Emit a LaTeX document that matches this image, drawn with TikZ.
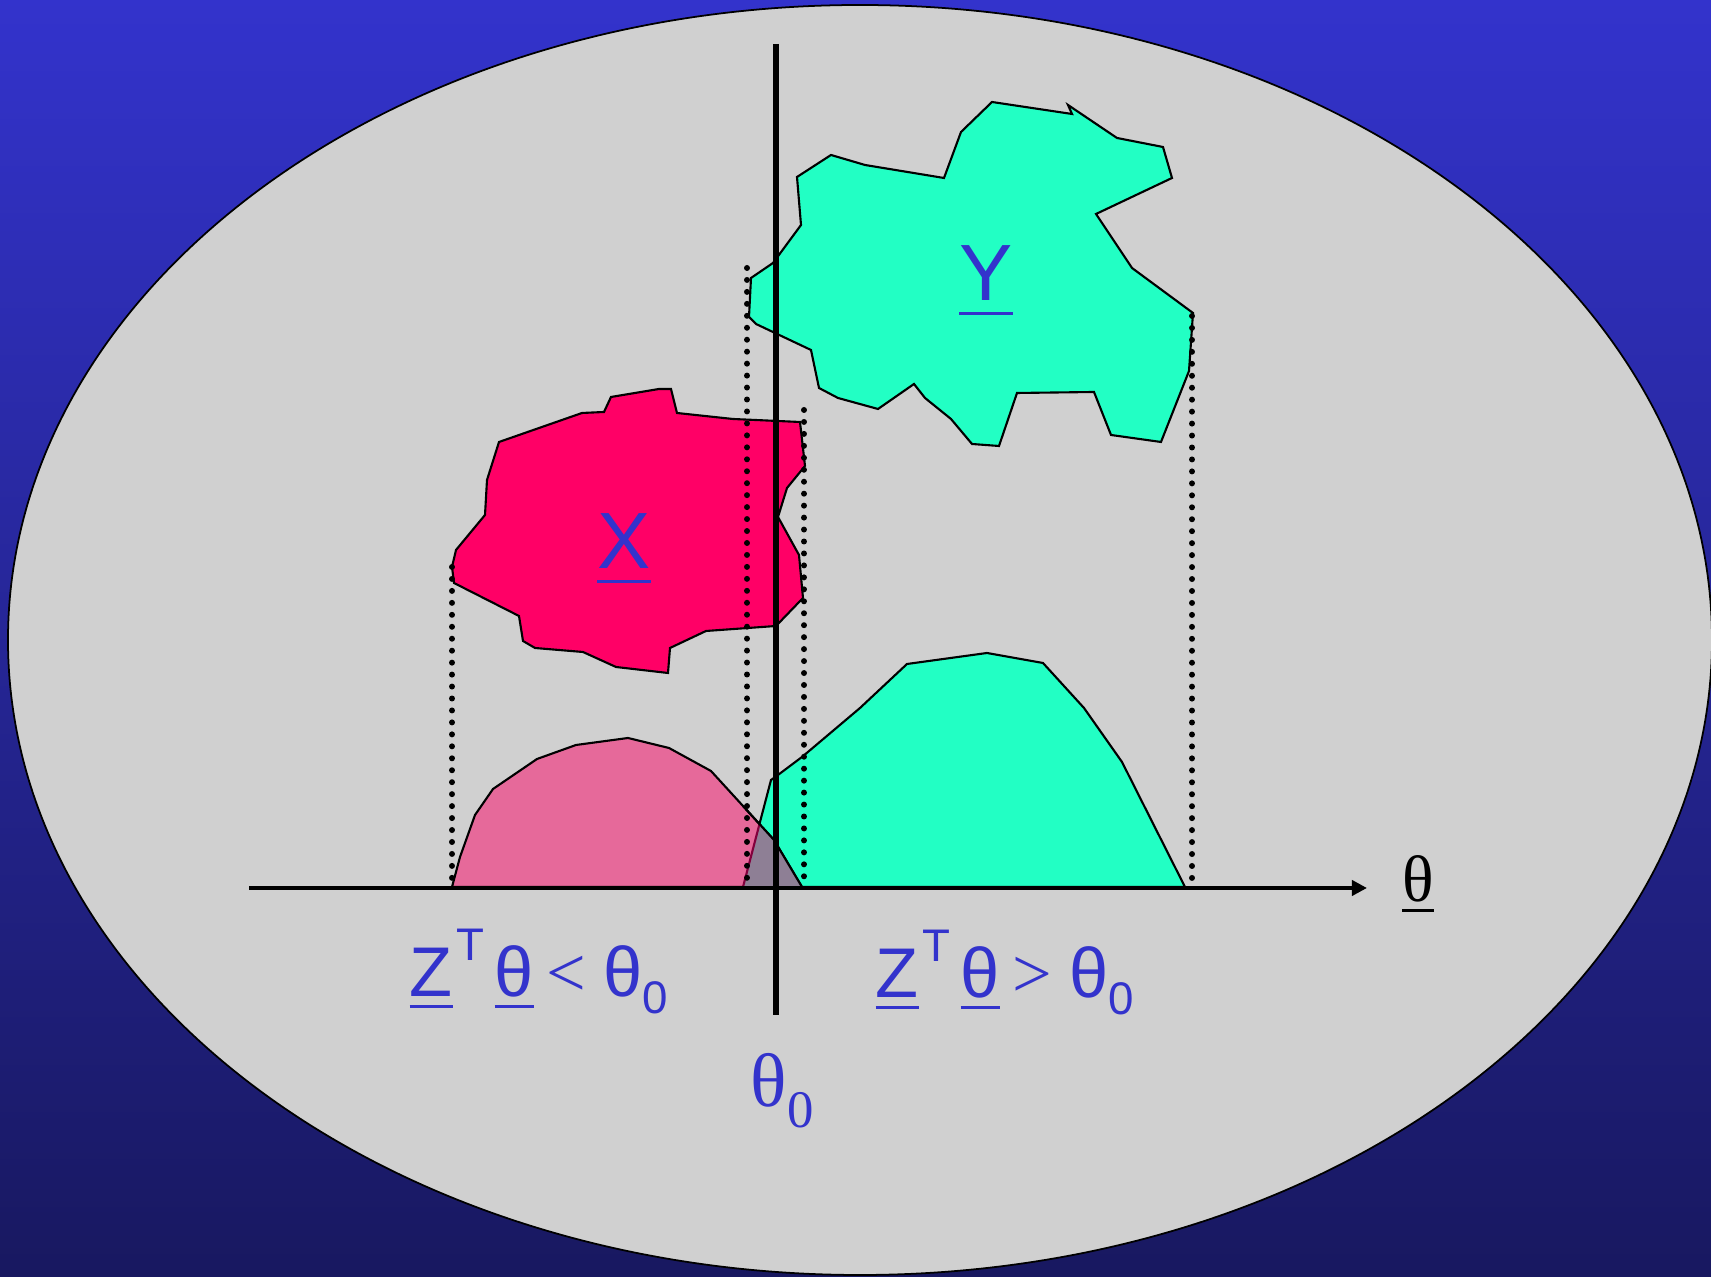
\documentclass[tikz,border=0pt]{standalone}
\usepackage{fontspec}
\usepackage{xcolor}
\usepackage{tikz}
\usetikzlibrary{arrows.meta}
\newfontfamily\lsans{Liberation Sans}
\newfontfamily\lserif{Liberation Serif}
\definecolor{bgtop}{RGB}{51,51,204}
\definecolor{bgbot}{RGB}{24,24,96}
\definecolor{plate}{RGB}{208,208,208}
\definecolor{cgreen}{RGB}{34,255,196}
\definecolor{cred}{RGB}{255,0,102}
\definecolor{cpink}{RGB}{230,105,154}
\definecolor{cmix}{RGB}{142,127,149}
\definecolor{cmaroon}{RGB}{130,0,60}
\definecolor{lblue}{RGB}{51,51,204}
\tikzstyle{blob} = [draw=black, line width=0.6pt]
\tikzstyle{proj} = [line width=1.7pt, dash pattern=on 0pt off 3.4pt, line cap=round]
\tikzstyle{axisline} = [line width=1.1pt, -{Triangle[length=4.3pt, width=4.3pt]}]
\tikzstyle{divider} = [line width=1.9pt]
\tikzstyle{lbl} = [inner sep=0pt, text=lblue]
\newcommand{\uvec}[2][3.1pt]{\setbox0=\hbox{#2}\rlap{\rule[-#1]{\wd0}{0.85pt}}\box0}
\newcommand{\relfont}{\lsans\fontsize{20pt}{24pt}\selectfont}
\newcommand{\smallfont}{\fontsize{13pt}{16pt}\selectfont}
\newcommand{\setfont}{\lsans\fontsize{22.7pt}{27pt}\selectfont}
\newcommand{\rel}[1]{{\lserif\fontsize{20pt}{24pt}\selectfont #1}}

\begin{document}
\begin{tikzpicture}[x=0.01cm, y=-0.01cm]
    \useasboundingbox (0,0) rectangle (1711,1277);
    \clip (0,0) rectangle (1711,1277);
    \shade[top color=bgtop, bottom color=bgbot] (0,0) rectangle (1711,1277);
    \draw[fill=plate, line width=0.5pt] (860,640) ellipse (852 and 635);
    
    \coordinate (ax0) at (249,888);
    \coordinate (ax1) at (1367,888);
    \coordinate (d0) at (776,44);
    \coordinate (d1) at (776,1015);
    
    % the two sets
    \draw[blob, fill=cgreen] (992,102) -- (1072,114) -- (1068,105) -- (1117,138) -- (1163,147) -- (1172,178) -- (1096,214) -- (1132,268) -- (1193,313) -- (1189,371) -- (1161,442) -- (1111,435) -- (1094,392) -- (1017,393) -- (999,446) -- (972,444) -- (951,419) -- (925,398) -- (914,384) -- (878,409) -- (838,398) -- (819,388) -- (811,350) -- (756,324) -- (749,317) -- (751,278) -- (773,263) -- (801,225) -- (797,177) -- (831,155) -- (865,165) -- (944,178) -- (961,132) -- cycle;
    \draw[blob, fill=cred] (499,442) -- (582,413) -- (604,412) -- (611,397) -- (659,389) -- (671,389) -- (677,413) -- (733,419) -- (800,422) -- (805,466) -- (787,488) -- (778,517) -- (799,555) -- (803,598) -- (776,626) -- (706,631) -- (670,648) -- (668,673) -- (616,667) -- (583,652) -- (535,648) -- (523,641) -- (519,616) -- (454,583) -- (452,567) -- (456,550) -- (485,515) -- (487,480) -- cycle;
    
    \coordinate (xleft) at (452,567);
    \coordinate (xright) at (804,410);
    \coordinate (yleft) at (747,268);
    \coordinate (yright) at (1192,316);
    
    % projections on the axis
    \draw[blob, fill=cgreen] (743,887) -- (771,780) -- (778,775) -- (802,757) -- (860,708) -- (907,664) -- (987,653) -- (1043,663) -- (1084,708) -- (1122,762) -- (1185,887) -- cycle;
    \draw[blob, fill=cpink] (452,887) -- (460,857) -- (475,815) -- (493,789) -- (537,759) -- (576,745) -- (628,738) -- (669,748) -- (711,771) -- (743,806) -- (774,840) -- (802,887) -- cycle;
    \fill[cmix] (743,887) -- (759.5,824) -- (774,840) -- (802,887) -- cycle;
    \draw[line width=0.6pt, cmaroon] (743,887) -- (759.5,824);
    \draw[line width=0.6pt] (743,806) -- (774,840) -- (802,887);
    
    \draw[proj] (xleft) -- (xleft |- ax0);
    \draw[proj] (yleft) -- (yleft |- ax0);
    \draw[proj] (xright) -- (xright |- ax0);
    \draw[proj] (yright) -- (yright |- ax0);
    
    \draw[axisline] (ax0) -- (ax1);
    \draw[divider] (d0) -- (d1);
    
    \node[lbl, anchor=base] (xlbl) at (624,569) {\setfont\uvec[4.1pt]{X}};
    \node[lbl, anchor=base] (ylbl) at (986,301) {\setfont\uvec[4.1pt]{Y}};
    
    \node[inner sep=0pt, anchor=base] (thaxis) at (1418,902) {\lserif\fontsize{18.7pt}{22pt}\selectfont\uvec[2.8pt]{θ}};
    
    \node[lbl, anchor=base west] (lhs) at (409,997) {\relfont\uvec{Z}\hspace{1pt}\raisebox{10.5pt}{\smallfont T}\hspace{3pt}\uvec{θ}\hspace{3.5pt}\rel{<}\hspace{5pt}θ\raisebox{-4.6pt}{\smallfont 0}};
    \node[lbl, anchor=base west] (rhs) at (875,998) {\relfont\uvec{Z}\hspace{1pt}\raisebox{10.5pt}{\smallfont T}\hspace{3pt}\uvec{θ}\hspace{3.5pt}\rel{>}\hspace{5pt}θ\raisebox{-4.6pt}{\smallfont 0}};
    
    \node[lbl, anchor=base west] (th0) at (750,1107) {\lserif\fontsize{21.6pt}{26pt}\selectfont θ\raisebox{-5.7pt}{\fontsize{15pt}{18pt}\selectfont 0}};
\end{tikzpicture}
\end{document}
